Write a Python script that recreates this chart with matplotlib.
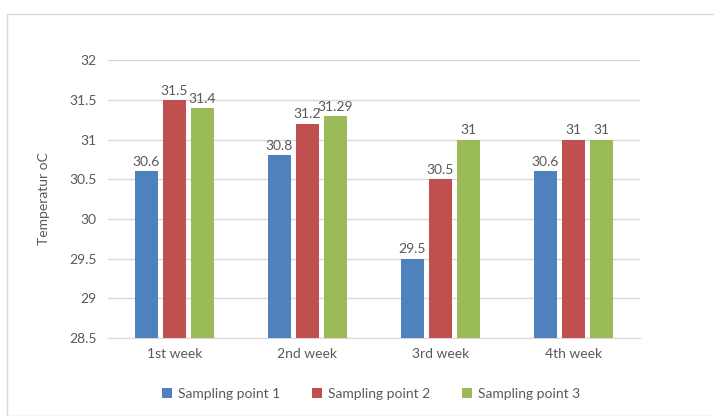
import numpy as np
import matplotlib.pyplot as plt
from matplotlib.patches import Rectangle

weeks = ["1st week", "2nd week", "3rd week", "4th week"]
point1 = [30.6, 30.8, 29.5, 30.6]
point2 = [31.5, 31.2, 30.5, 31.0]
point3 = [31.4, 31.29, 31.0, 31.0]
series_names = ["Sampling point 1", "Sampling point 2", "Sampling point 3"]
colors = ["#4F81BD", "#C0504D", "#9BBB59"]

plt.rcParams['font.family'] = ['Lato', 'DejaVu Sans']
txt = "#595959"

fig = plt.figure(figsize=(7.14, 4.16), dpi=100)
ax = fig.add_axes([0.151, 0.1875, 0.745, 0.668])

# chart border
fig.patches.append(Rectangle((7 / 714, 0), 1, 1 - 14 / 416, transform=fig.transFigure,
                             fill=False, edgecolor="#d9d9d9", linewidth=1))

x = np.arange(len(weeks))
w = 0.173
step = 0.21
for i, (vals, name, c) in enumerate(zip([point1, point2, point3], series_names, colors)):
    pos = x + (i - 1) * step
    ax.bar(pos, np.array(vals) - 28.5, width=w, bottom=28.5, color=c, label=name, zorder=3)
    for p, v in zip(pos, vals):
        ax.text(p, v + 0.04, f"{v:g}", ha="center", va="bottom", fontsize=10, color=txt)

ax.set_xlim(-0.5, 3.5)
ax.set_ylim(28.5, 32)
ax.set_yticks(np.arange(28.5, 32.01, 0.5))
ax.set_yticklabels([f"{t:g}" for t in np.arange(28.5, 32.01, 0.5)])
ax.set_xticks(x)
ax.set_xticklabels(weeks)
ax.grid(axis="y", color="#d9d9d9", linewidth=1, zorder=0)
for s in ["top", "right", "left"]:
    ax.spines[s].set_visible(False)
ax.spines["bottom"].set_color("#d9d9d9")
ax.tick_params(length=0, colors=txt, labelsize=10)
ax.tick_params(axis="y", pad=8)
ax.tick_params(axis="x", pad=7)
ax.set_ylabel("Temperatur oC", color=txt, fontsize=10, labelpad=14)

ax.legend(loc="upper center", bbox_to_anchor=(0.495, -0.135), ncol=3, frameon=False,
          fontsize=10, labelcolor=txt, handlelength=0.7, handleheight=0.7,
          handletextpad=0.45, columnspacing=2.3)

fig.savefig("out.png", dpi=100)
